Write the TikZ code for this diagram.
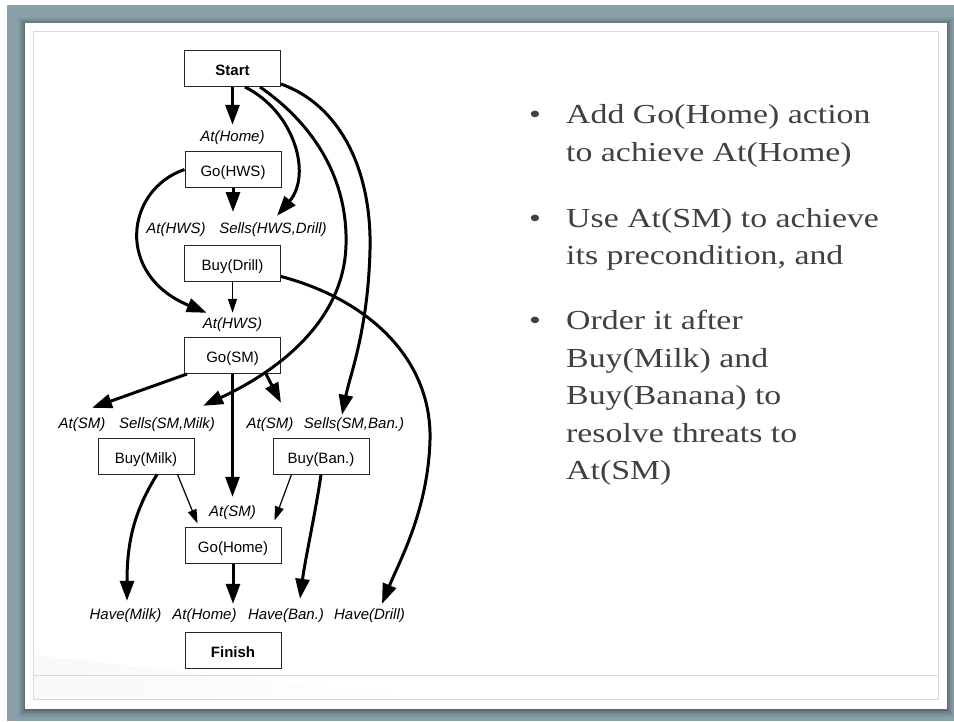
\documentclass[tikz,border=0pt]{standalone}
\usepackage{fontspec}
\setmainfont{Liberation Serif}
\newfontfamily\diagfont{Liberation Sans}
\newfontfamily\bulletfont[FakeStretch=1.23]{Liberation Serif}
\usetikzlibrary{arrows.meta,calc}

\definecolor{wallgray}{HTML}{8AA0A8}
\definecolor{framegray}{HTML}{D9D9D1}
\definecolor{textgray}{HTML}{404040}

\begin{document}
\begin{tikzpicture}[x=1pt,y=-1pt,
  actbox/.style={draw=black!85, line width=1pt, fill=white,
    minimum width=96pt, minimum height=36pt, inner sep=0pt,
    text height=14.5pt, text depth=0pt,
    font=\diagfont\fontsize{15}{18}\selectfont},
  boldbox/.style={actbox, font=\diagfont\bfseries\fontsize{15}{18}\selectfont},
  cond/.style={inner sep=0pt, text height=11pt, text depth=3pt, anchor=base,
    font=\diagfont\itshape\fontsize{15}{18}\selectfont},
  causal/.style={line width=3pt, -{Triangle[length=20pt,width=14pt]}},
  order/.style={line width=1.2pt, -{Triangle[length=14pt,width=9pt]}},
  bullet/.style={anchor=base west, inner sep=0pt, text=textgray,
    font=\bulletfont\fontsize{27.5}{33}\selectfont},
]
% page, wall and slide
\useasboundingbox (0,0) rectangle (954,721);
\fill[white] (0,0) rectangle (954,721);
\fill[wallgray] (7,5) rectangle (954,721);
\foreach \d/\o in {7/0.05,5/0.07,3/0.10,1/0.14}
  \fill[black,opacity=\o] (25-\d,23-\d+1) rectangle (947+\d,709+\d+1);
\fill[white] (25,23) rectangle (947,709);
\shade[left color=black!2.5,right color=white] (34,655) -- (34,699) -- (430,699) -- cycle;
\draw[framegray, line width=1.5pt] (33.5,31.5) rectangle (938.5,699.5);
\draw[framegray, line width=1.5pt] (33.5,675.5) -- (938.5,675.5);

% plan steps
\node[boldbox] (start)    at (232.5,68.5)  {Start};
\node[actbox]  (gohws)    at (233,169.5)   {Go(HWS)};
\node[actbox]  (buydrill) at (232.5,263.5) {Buy(Drill)};
\node[actbox]  (gosm)     at (232.5,355.5) {Go(SM)};
\node[actbox]  (buymilk)  at (146,456)     {Buy(Milk)};
\node[actbox]  (buyban)   at (321,456)     {Buy(Ban.)};
\node[actbox]  (gohome)   at (233,545)     {Go(Home)};
\node[boldbox] (finish)   at (233,650.5)   {Finish};

% preconditions
\node[cond] (athome1)   at (232.5,141) {At(Home)};
\node[cond] (athws1)    at (176,233)   {At(HWS)};
\node[cond] (sellshws)  at (273,233)   {Sells(HWS,Drill)};
\node[cond] (athws2)    at (232.5,328) {At(HWS)};
\node[cond] (atsm1)     at (82,428)    {At(SM)};
\node[cond] (sellsmilk) at (167,428)   {Sells(SM,Milk)};
\node[cond] (atsm2)     at (270,428)   {At(SM)};
\node[cond] (sellsban)  at (354,428)   {Sells(SM,Ban.)};
\node[cond] (atsm3)     at (232.5,516) {At(SM)};
\node[cond] (havemilk)  at (125.5,619) {Have(Milk)};
\node[cond] (athome2)   at (204.5,619) {At(Home)};
\node[cond] (haveban)   at (286,619)   {Have(Ban.)};
\node[cond] (havedrill) at (369.5,619) {Have(Drill)};

% causal links and orderings
\draw[causal] (start.south) -- ([yshift=5pt]athome1.north);
\draw[causal] (gohws.south) -- ($(gohws.south)+(0,24)$);
\draw[causal] (gohws.west) .. controls (125,190) and (115,275) ..
  ([xshift=4pt,yshift=4pt]athws2.north west);
\draw[causal] ([xshift=12.5pt]start.south) .. controls (295,112) and (312,175) ..
  ([xshift=4pt,yshift=6pt]sellshws.north);
\draw[causal] ([xshift=27.5pt]start.south) .. controls (315,125) and (348,180) .. (346,245)
  .. controls (344,320) and (280,370) .. ([xshift=-12pt,yshift=11pt]sellsmilk.north east);
\draw[causal] ([yshift=3pt]start.south east) .. controls (340,105) and (372,170) .. (370,250)
  .. controls (368,330) and (350,375) .. ([xshift=-12pt,yshift=2pt]sellsban.north);
\draw[order] (buydrill.south) -- ([yshift=4pt]athws2.north);
\draw[causal] ([yshift=-13pt]buydrill.east) .. controls (370,300) and (432,360) .. (430,440)
  .. controls (428,510) and (400,560) .. ([xshift=12.5pt,yshift=4pt]havedrill.north);
\draw[causal] ([xshift=3pt]gosm.south west) -- ([xshift=10pt,yshift=9pt]atsm1.north);
\draw[causal] (gosm.south) -- ([yshift=8pt]atsm3.north);
\draw[causal] ([xshift=-15pt]gosm.south east) -- ([xshift=11pt,yshift=14pt]atsm2.north);
\draw[order] ([xshift=-17pt]buymilk.south east) -- ([xshift=13pt,yshift=3pt]gohome.north west);
\draw[order] ([xshift=19pt]buyban.south west) -- ([xshift=-7pt,yshift=6pt]gohome.north east);
\draw[causal] ([xshift=11pt]buymilk.south) .. controls (135,510) and (127,540) ..
  ([xshift=1.5pt,yshift=7pt]havemilk.north);
\draw[causal] (buyban.south) .. controls (316,510) and (305,560) ..
  ([xshift=14pt,yshift=9pt]haveban.north);
\draw[causal] (gohome.south) -- ($(gohome.south |- athome2.north)+(0,-4)$);

% bullet list
\node[bullet] (dot1) at (529,123) {•};
\node[bullet] (l1a) at (566,123) {Add Go(Home) action};
\node[bullet] (l1b) at (566,161) {to achieve At(Home)};
\node[bullet] (dot2) at (529,227) {•};
\node[bullet] (l2a) at (566,227) {Use At(SM) to achieve};
\node[bullet] (l2b) at (566,264) {its precondition, and};
\node[bullet] (dot3) at (529,329) {•};
\node[bullet] (l3a) at (566,329) {Order it after};
\node[bullet] (l3b) at (566,367) {Buy(Milk) and};
\node[bullet] (l3c) at (566,404.5) {Buy(Banana) to};
\node[bullet] (l3d) at (566,442) {resolve threats to};
\node[bullet] (l3e) at (566,479.5) {At(SM)};
\end{tikzpicture}
\end{document}
